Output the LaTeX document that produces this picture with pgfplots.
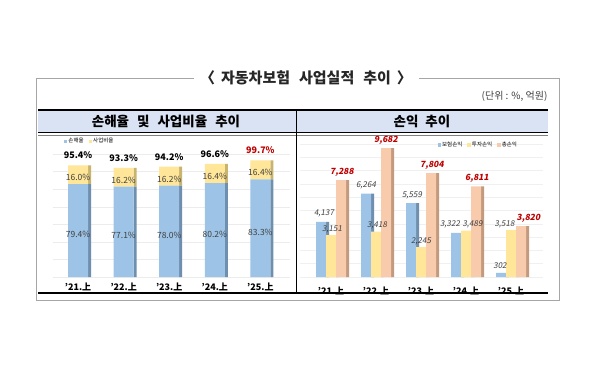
\documentclass[border=0pt]{standalone}
\usepackage{pgfplots}
\pgfplotsset{compat=1.18}
\usepackage{pgfplotstable}
\usepackage{fontspec}
\setmainfont{Noto Sans CJK KR}
\newfontfamily\slnt{Noto Sans CJK KR}[FakeSlant=0.18]
\definecolor{bluef}{HTML}{9DC3E6}
\definecolor{blues}{HTML}{6F8FAF}
\definecolor{yelf}{HTML}{FFE699}
\definecolor{yels}{HTML}{C8B46E}
\definecolor{orf}{HTML}{F8CBAD}
\definecolor{ors}{HTML}{C49A7E}
\definecolor{band}{HTML}{DAE3F3}
\definecolor{myred}{HTML}{C00000}
\definecolor{lbl}{HTML}{404040}
\newcommand\sx[2]{\makebox[0pt]{\hspace*{#1pt}\hspace*{#1pt}#2}}
\pgfplotsset{
  leftax/.style={at={(53pt,93pt)},anchor=south west, scale only axis, width=237pt, height=137pt,
    xmin=-0.55, xmax=4.65, ymin=0, ymax=117, axis line style={draw=none}, tick style={draw=none},
    xtick={0,...,4}, ytick=\empty, clip=false},
  rightax/.style={at={(299.5pt,93pt)},anchor=south west, scale only axis, width=243pt, height=137pt,
    xmin=-0.7, xmax=4.7, ymin=0, ymax=10300, axis line style={draw=none}, tick style={draw=none},
    xtick={0,...,4}, clip=false, scaled ticks=false},
  cats/.style={xticklabels={'21.上,'22.上,'23.上,'24.上,'25.上},
    xticklabel style={anchor=center, yshift=-10pt, font=\fontsize{9}{9}\selectfont\bfseries}},
  sqleg/.style={legend style={draw=none, fill=none, font=\fontsize{5.5}{6}\selectfont, legend columns=-1,
      inner sep=0pt, nodes={inner sep=1pt}, /tikz/every even column/.append style={column sep=4pt}}},
  sqimg/.style={legend image code/.code={\fill[##1] (0pt,-1.8pt) rectangle (3.6pt,1.8pt);}},
}
\pgfplotstableread{
x y lab
0 4137 \sx{3}{4,137}
1 6264 \sx{0}{6,264}
2 5559 \sx{1}{5,559}
3 3322 \sx{-6}{3,322}
4 302 \sx{-1}{302}
}\bohum
\pgfplotstableread{
x y lab
0 3151 \sx{1}{3,151}
1 3418 \sx{1}{3,418}
2 2245 \sx{0}{2,245}
3 3489 \sx{6.5}{3,489}
4 3518 \sx{-6.5}{3,518}
}\tuja
\pgfplotstableread{
x y lab
0 7288 \sx{1}{7,288}
1 9682 \sx{0}{9,682}
2 7804 \sx{1}{7,804}
3 6811 \sx{1}{6,811}
4 3820 \sx{7.5}{3,820}
}\chong
\begin{document}
\begin{tikzpicture}
\useasboundingbox[fill=white] (0,0) rectangle (600pt,370pt);
\begin{scope}[x=1pt,y=-1pt,shift={(0pt,370pt)}]
  % outer frame
  \draw[gray!70, line width=0.9pt] (194,78) -- (36,78) -- (36,300) -- (559,300) -- (559,78) -- (419,78);
  \node[font=\fontsize{15}{15}\selectfont\bfseries, text=black!85] at (306,78)
    {〈\hspace{6pt}자동차보험\hspace{9pt}사업실적\hspace{9pt}추이\hspace{6pt}〉};
  \node[anchor=east, font=\fontsize{10}{10}\selectfont, text=lbl] at (551,96) {(단위 : \%, 억원)};
  % header band
  \fill[band] (38,110) rectangle (548,133);
  \draw[line width=1.3pt] (38,110) -- (548,110);
  \draw[line width=1pt] (38,133) -- (548,133);
  \draw[gray, line width=0.6pt] (38,135.8) -- (548,135.8);
  \draw[line width=0.6pt] (296,110) -- (296,293);
  \draw[line width=1.3pt] (38,293) -- (548,293);
  \node[font=\fontsize{13.5}{13.5}\selectfont\bfseries] at (166,121.5)
    {손해율\hspace{8pt}및\hspace{8pt}사업비율\hspace{8pt}추이};
  \node[font=\fontsize{13.5}{13.5}\selectfont\bfseries] at (422,121.5) {손익\hspace{7pt}추이};
\end{scope}

% ===== left chart: side faces + grid
\begin{axis}[leftax, ybar stacked, bar width=3pt, bar shift=11.5pt,
  xticklabels={}, ytick={0,15,...,105}, yticklabels={}, ymajorgrids, grid style={gray!15}]
\addplot[fill=blues, draw=none] coordinates {(0,79.4) (1,77.1) (2,78.0) (3,80.2) (4,83.3)};
\addplot[fill=yels, draw=none] coordinates {(0,16.0) (1,16.2) (2,16.2) (3,16.4) (4,16.4)};
\end{axis}
% ===== left chart: front faces
\begin{axis}[leftax, cats, sqleg, ybar stacked, bar width=20pt, bar shift=0pt,
  point meta=explicit symbolic, nodes near coords,
  legend style={at={(0.045,0.99)}, anchor=west}]
\addplot[fill=bluef, draw=none, sqimg,
  every node near coord/.style={anchor=center, yshift=-4pt, font=\fontsize{8.5}{8.5}\selectfont, text=lbl}]
  coordinates {(0,79.4) [79.4\%] (1,77.1) [77.1\%] (2,78.0) [78.0\%] (3,80.2) [80.2\%] (4,83.3) [83.3\%]};
\addplot[fill=yelf, draw=none, sqimg,
  every node near coord/.style={anchor=center, yshift=-3pt, font=\fontsize{8.5}{8.5}\selectfont, text=lbl}]
  coordinates {(0,16.0) [16.0\%] (1,16.2) [16.2\%] (2,16.2) [16.2\%] (3,16.4) [16.4\%] (4,16.4) [16.4\%]};
\legend{손해율, 사업비율}
\end{axis}
% ===== left chart: totals
\begin{axis}[leftax, ybar, bar width=20pt, xticklabels={},
  point meta=explicit symbolic, nodes near coords,
  every node near coord/.append style={anchor=south, yshift=3pt, font=\fontsize{9}{9}\selectfont\bfseries}]
\addplot[draw=none, fill=none, bar shift=0pt]
  coordinates {(0,95.4) [95.4\%] (1,93.3) [93.3\%] (2,94.2) [94.2\%] (3,96.6) [96.6\%] (4,99.7) [\textcolor{myred}{99.7\%}]};
\end{axis}

% ===== right chart
\begin{axis}[rightax, cats, sqleg, ybar, ytick={0,1000,...,10000}, yticklabels={},
  ymajorgrids, grid style={gray!12}, point meta=explicit symbolic,
  legend style={at={(0.90,0.964)}, anchor=east}]
\addplot[fill=blues, draw=none, bar width=3pt, bar shift=-3.5pt, forget plot] table[x=x,y=y] {\bohum};
\addplot[fill=bluef, draw=none, sqimg, bar width=10pt, bar shift=-10pt, nodes near coords,
  every node near coord/.style={anchor=south, xshift=-10pt, yshift=1pt, font=\slnt\fontsize{8}{8}\selectfont, text=lbl}]
  table[x=x,y=y,meta=lab] {\bohum};
\addplot[fill=yels, draw=none, bar width=3pt, bar shift=6.5pt, forget plot] table[x=x,y=y] {\tuja};
\addplot[fill=yelf, draw=none, sqimg, bar width=10pt, bar shift=0pt, nodes near coords,
  every node near coord/.style={anchor=south, yshift=-1pt, font=\slnt\fontsize{8}{8}\selectfont, text=lbl}]
  table[x=x,y=y,meta=lab] {\tuja};
\addplot[fill=ors, draw=none, bar width=3pt, bar shift=16.5pt, forget plot] table[x=x,y=y] {\chong};
\addplot[fill=orf, draw=none, sqimg, bar width=10pt, bar shift=10pt, nodes near coords,
  every node near coord/.style={anchor=south, xshift=10pt, font=\slnt\fontsize{8.5}{8.5}\selectfont\bfseries, text=myred}]
  table[x=x,y=y,meta=lab] {\chong};
\legend{보험손익, 투자손익, 총손익}
\end{axis}
\end{tikzpicture}
\end{document}
